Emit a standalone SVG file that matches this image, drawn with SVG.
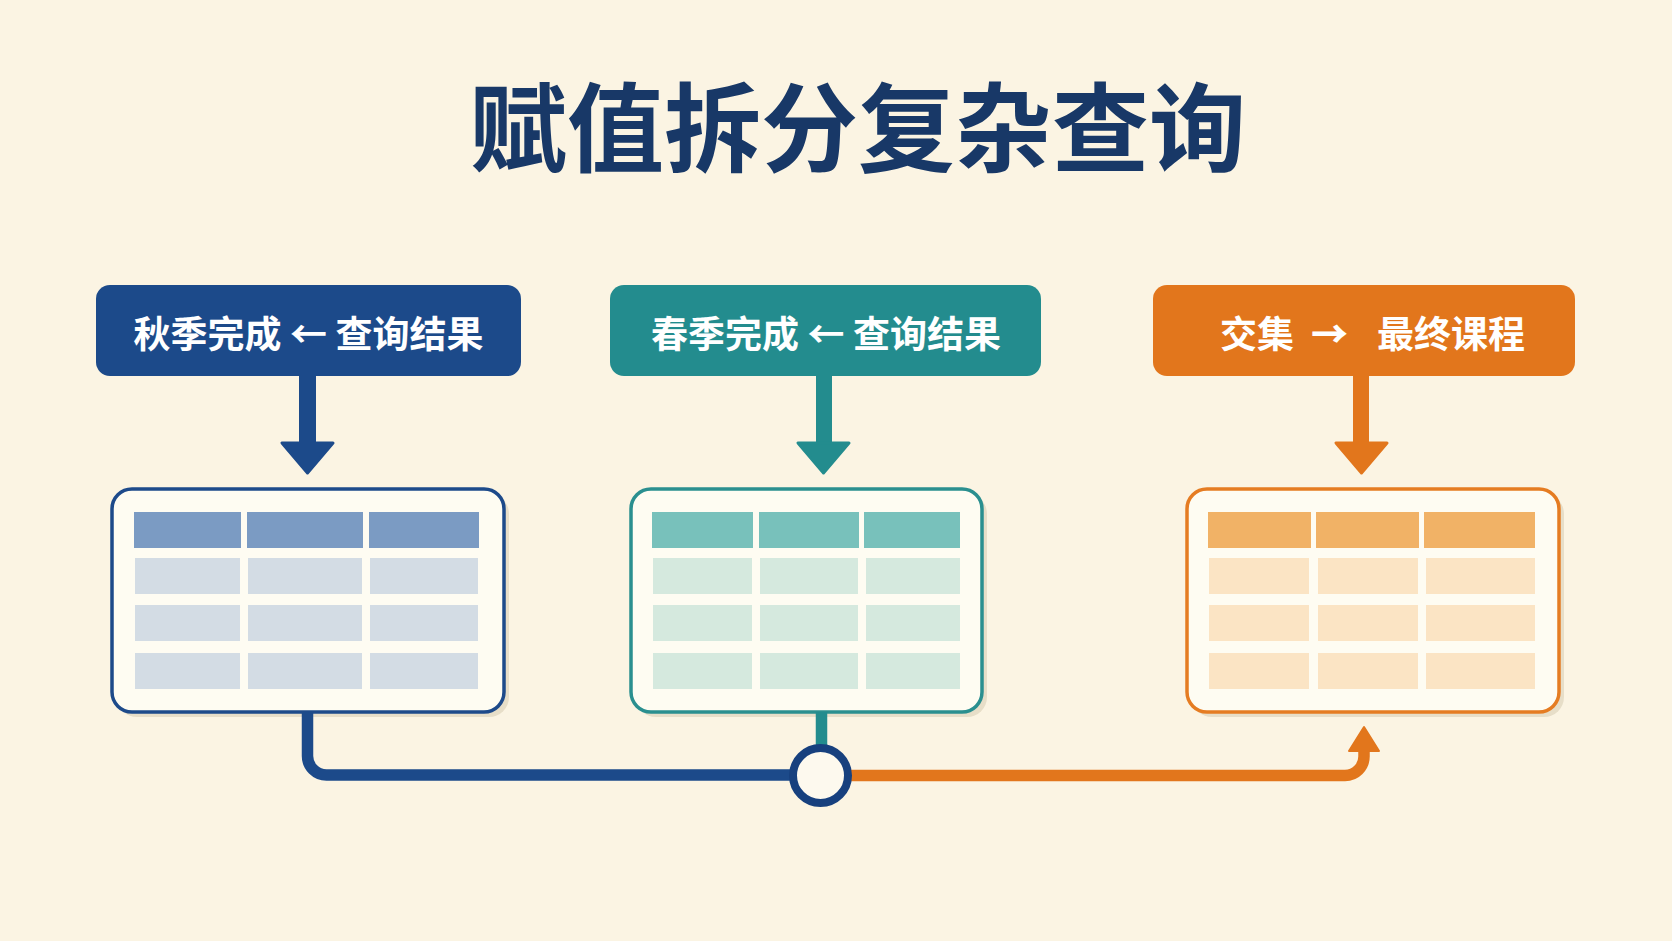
<svg xmlns="http://www.w3.org/2000/svg" width="1672" height="941" viewBox="0 0 1672 941">
<defs>
<style>
.title{font-family:"Noto Sans CJK SC","Noto Sans",sans-serif;font-weight:700;font-size:97px;fill:#183867;}
.lbl{font-family:"Noto Sans CJK SC","Noto Sans",sans-serif;font-weight:700;font-size:37px;fill:#ffffff;}
.tbl{fill:#fefcf2;stroke-width:3.5;}
.shadow{fill:#e7dec8;}
.c1h{fill:#7b9bc3;} .c1b{fill:#d3dce4;}
.c2h{fill:#78c1bb;} .c2b{fill:#d5e9de;}
.c3h{fill:#f1b266;} .c3b{fill:#fbe4c4;}
.navy{fill:#1c4a8a;} .teal{fill:#238c8e;} .orange{fill:#e2761c;}
.line{fill:none;stroke-width:11.5;stroke-linecap:butt;}
</style>
</defs>
<rect x="0" y="0" width="1672" height="941" fill="#fbf4e3"/>
<text class="title" x="858" y="164" text-anchor="middle">赋值拆分复杂查询</text>

<g id="box1">
<rect class="navy" x="96" y="285" width="425" height="91" rx="14"/>
<text class="lbl" x="308.5" y="348" text-anchor="middle">秋季完成 ← 查询结果</text>
</g>
<g id="box2">
<rect class="teal" x="610" y="285" width="431" height="91" rx="14"/>
<text class="lbl" x="826" y="348" text-anchor="middle">春季完成 ← 查询结果</text>
</g>
<g id="box3">
<rect class="orange" x="1153" y="285" width="422" height="91" rx="14"/>
<text class="lbl" y="348"><tspan x="1220">交集</tspan><tspan x="1311" font-weight="900">→</tspan><tspan x="1377">最终课程</tspan></text>
</g>

<g id="table1">
<rect class="shadow" x="117" y="494" width="392" height="223" rx="20"/>
<rect class="tbl" x="112" y="489" width="392" height="223" rx="20" stroke="#1d4a8a"/>
<rect class="c1h" x="134" y="512" width="107" height="36"/><rect class="c1h" x="247" y="512" width="116" height="36"/><rect class="c1h" x="369" y="512" width="110" height="36"/>
<rect class="c1b" x="135" y="558" width="105" height="36"/><rect class="c1b" x="248" y="558" width="114" height="36"/><rect class="c1b" x="370" y="558" width="108" height="36"/>
<rect class="c1b" x="135" y="605" width="105" height="36"/><rect class="c1b" x="248" y="605" width="114" height="36"/><rect class="c1b" x="370" y="605" width="108" height="36"/>
<rect class="c1b" x="135" y="653" width="105" height="36"/><rect class="c1b" x="248" y="653" width="114" height="36"/><rect class="c1b" x="370" y="653" width="108" height="36"/>
</g>
<g id="table2">
<rect class="shadow" x="636" y="494" width="351" height="223" rx="20"/>
<rect class="tbl" x="631" y="489" width="351" height="223" rx="20" stroke="#2a8f8f"/>
<rect class="c2h" x="652" y="512" width="101" height="36"/><rect class="c2h" x="759" y="512" width="100" height="36"/><rect class="c2h" x="864" y="512" width="96" height="36"/>
<rect class="c2b" x="653" y="558" width="99" height="36"/><rect class="c2b" x="760" y="558" width="98" height="36"/><rect class="c2b" x="866" y="558" width="94" height="36"/>
<rect class="c2b" x="653" y="605" width="99" height="36"/><rect class="c2b" x="760" y="605" width="98" height="36"/><rect class="c2b" x="866" y="605" width="94" height="36"/>
<rect class="c2b" x="653" y="653" width="99" height="36"/><rect class="c2b" x="760" y="653" width="98" height="36"/><rect class="c2b" x="866" y="653" width="94" height="36"/>
</g>
<g id="table3">
<rect class="shadow" x="1192" y="494" width="372" height="223" rx="20"/>
<rect class="tbl" x="1187" y="489" width="372" height="223" rx="20" stroke="#e57c22"/>
<rect class="c3h" x="1208" y="512" width="103" height="36"/><rect class="c3h" x="1316" y="512" width="103" height="36"/><rect class="c3h" x="1424" y="512" width="111" height="36"/>
<rect class="c3b" x="1209" y="558" width="100" height="36"/><rect class="c3b" x="1318" y="558" width="100" height="36"/><rect class="c3b" x="1426" y="558" width="109" height="36"/>
<rect class="c3b" x="1209" y="605" width="100" height="36"/><rect class="c3b" x="1318" y="605" width="100" height="36"/><rect class="c3b" x="1426" y="605" width="109" height="36"/>
<rect class="c3b" x="1209" y="653" width="100" height="36"/><rect class="c3b" x="1318" y="653" width="100" height="36"/><rect class="c3b" x="1426" y="653" width="109" height="36"/>
</g>

<g id="connectors">
<rect class="navy" x="299" y="370" width="17" height="76"/>
<polygon class="navy" points="282,443 333,443 307.5,473" stroke="#1c4a8a" stroke-width="3" stroke-linejoin="round"/>
<rect class="teal" x="816" y="370" width="16" height="76"/>
<polygon class="teal" points="798,443 849,443 823.5,473" stroke="#238c8e" stroke-width="3" stroke-linejoin="round"/>
<rect class="orange" x="1353" y="370" width="16" height="76"/>
<polygon class="orange" points="1336,443 1387,443 1361.5,473" stroke="#e2761c" stroke-width="3" stroke-linejoin="round"/>

<path class="line" stroke="#1c4a8a" d="M307.5 712 V756 A19 19 0 0 0 326.5 775 H795"/>
<path class="line" stroke="#238c8e" stroke-width="11" d="M821.5 712 V750"/>
<path class="line" stroke="#e2761c" d="M846 775.5 H1345 A19 19 0 0 0 1364 756.5 V748"/>
<polygon class="orange" points="1349,751 1379,751 1364,727" stroke="#e2761c" stroke-width="2" stroke-linejoin="round"/>
<circle cx="820.5" cy="775.5" r="27.5" fill="#fdf9ee" stroke="#17407e" stroke-width="8"/>
</g>
</svg>
